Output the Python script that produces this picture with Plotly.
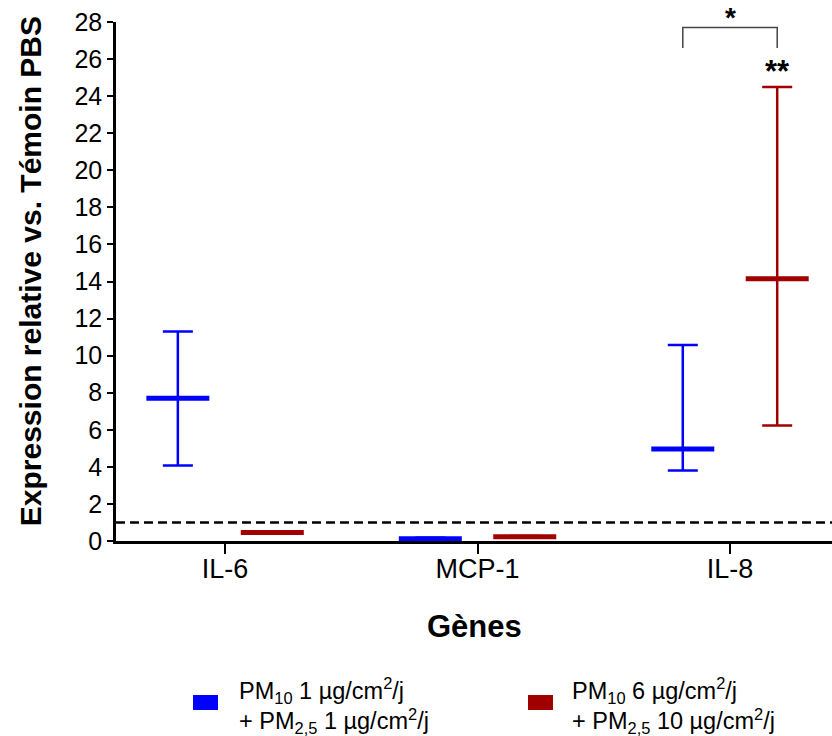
import plotly.graph_objects as go

genes = ["IL-6", "MCP-1", "IL-8"]
series_names = [
    "PM10 1 µg/cm²/j + PM2,5 1 µg/cm²/j",
    "PM10 6 µg/cm²/j + PM2,5 10 µg/cm²/j",
]
low_median = [7.7, 0.12, 4.97]
low_upper = [11.3, 0.17, 10.57]
low_lower = [4.07, 0.09, 3.8]
high_median = [0.46, 0.23, 14.15]
high_upper = [0.5, 0.27, 24.5]
high_lower = [0.42, 0.19, 6.23]
yticks = list(range(0, 29, 2))
colors = ["#0000FF", "#A00000"]
offset = 0.187

FONT = "Liberation Sans, Arial, sans-serif"

fig = go.Figure()
for name, med, up, lo, col, off in [
    (series_names[0], low_median, low_upper, low_lower, colors[0], -offset),
    (series_names[1], high_median, high_upper, high_lower, colors[1], offset),
]:
    fig.add_trace(go.Scatter(
        x=[i + off for i in range(len(genes))],
        y=med,
        mode="markers",
        name=name,
        showlegend=False,
        marker=dict(symbol="line-ew", size=45, color=col,
                    line=dict(color=col, width=5)),
        error_y=dict(type="data", symmetric=False,
                     array=[u - m for u, m in zip(up, med)],
                     arrayminus=[m - l for m, l in zip(med, lo)],
                     color=col, thickness=2.5, width=15),
    ))

# reference line at 1
fig.add_shape(type="line", xref="paper", x0=0, x1=1, yref="y", y0=1, y1=1,
              line=dict(color="black", width=2.5, dash="9px,5px"))

# significance bracket
fig.add_shape(type="path", xref="x", yref="y",
              path=f"M {2 - offset},26.6 L {2 - offset},27.7 L {2 + offset},27.7 L {2 + offset},26.6",
              line=dict(color="#444444", width=1.5))
fig.add_annotation(x=2, y=1.0, xref="x", yref="paper", yanchor="bottom", yshift=-13,
                   text="<b>*</b>", showarrow=False,
                   font=dict(family=FONT, size=28, color="black"))
fig.add_annotation(x=2 + offset, y=25.35, xref="x", yref="y", text="<b>**</b>", showarrow=False,
                   font=dict(family=FONT, size=31, color="black"))

# axis titles
fig.add_annotation(x=-0.12, y=0.52, xref="paper", yref="paper", textangle=-90,
                   text="<b>Expression relative vs. Témoin PBS</b>", showarrow=False,
                   xanchor="center", yanchor="middle",
                   font=dict(family=FONT, size=30, color="black"))
fig.add_annotation(x=0.5, y=-0.1638, xref="paper", yref="paper",
                   text="<b>Gènes</b>", showarrow=False,
                   xanchor="center", yanchor="middle",
                   font=dict(family=FONT, size=31, color="black"))

# manual legend
legend_texts = [
    "PM<sub>10</sub> 1 µg/cm<sup>2</sup>/j<br>+ PM<sub>2,5</sub> 1 µg/cm<sup>2</sup>/j",
    "PM<sub>10</sub> 6 µg/cm<sup>2</sup>/j<br>+ PM<sub>2,5</sub> 10 µg/cm<sup>2</sup>/j",
]
for (sx0, sx1, tx), col, txt in zip([(0.1075, 0.1425, 0.169), (0.5754, 0.6103, 0.634)], colors, legend_texts):
    fig.add_shape(type="rect", xref="paper", yref="paper", x0=sx0, x1=sx1,
                  y0=-0.3256, y1=-0.2967, fillcolor=col, line=dict(width=0))
    fig.add_annotation(x=tx, y=-0.3175, xref="paper", yref="paper", text=txt,
                       showarrow=False, xanchor="left", yanchor="middle", align="left",
                       font=dict(family=FONT, size=23.5, color="black"))

fig.update_layout(
    width=832, height=736,
    margin=dict(l=116, r=0, t=22, b=195),
    plot_bgcolor="white", paper_bgcolor="white",
    font=dict(family=FONT, color="black"),
    xaxis=dict(range=[-0.432, 2.404], tickvals=[0, 1, 2], ticktext=genes,
               showline=True, linecolor="black", linewidth=2.5,
               ticks="outside", ticklen=10, tickwidth=2, tickcolor="black",
               ticklabelstandoff=-8,
               showgrid=False, zeroline=False,
               tickfont=dict(family=FONT, size=27, color="black")),
    yaxis=dict(range=[0, 28], tickvals=yticks,
               showline=True, linecolor="black", linewidth=2.5,
               ticks="outside", ticklen=6, tickwidth=2, tickcolor="black",
               showgrid=False, zeroline=False,
               tickfont=dict(family=FONT, size=25, color="black")),
)

fig.write_html("out.html", config={"displayModeBar": False},
               post_script="document.body.style.margin='0';document.body.style.overflow='hidden';")
